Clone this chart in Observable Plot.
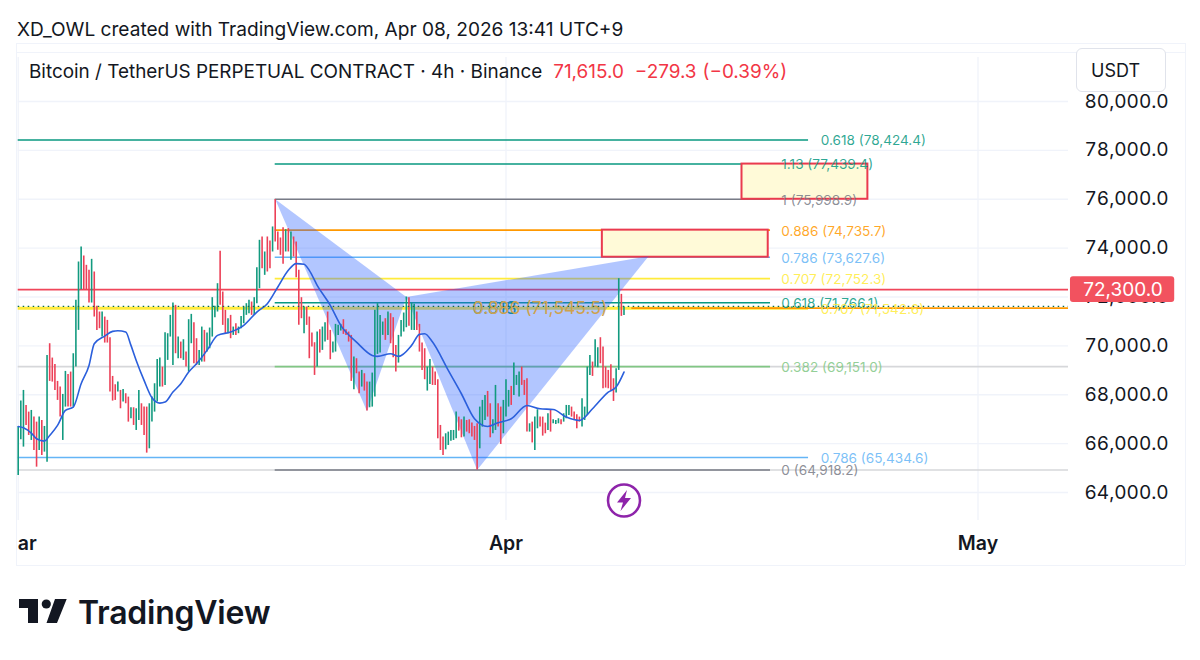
<!DOCTYPE html>
<html><head><meta charset="utf-8">
<script src="https://cdn.jsdelivr.net/npm/d3@7"></script>
<script src="https://cdn.jsdelivr.net/npm/@observablehq/plot@0.6"></script>
<style>
html,body{margin:0;padding:0;background:#fff}
#wrap{position:relative;width:1200px;height:660px;overflow:hidden;font-family:Inter,"Noto Sans",sans-serif;color:#131722}
#wrap>*{position:absolute}
#chart svg{display:block}
.line{background:#f0f3fa}
</style></head><body>
<div id="wrap">
<div id="chart" style="left:0;top:0"></div>
<div class="line" style="left:16px;top:43px;width:1169px;height:1px"></div>
<div class="line" style="left:16px;top:52px;width:1169px;height:1px"></div>
<div class="line" style="left:16px;top:565px;width:1169px;height:1px"></div>
<div class="line" style="left:16px;top:43px;width:1px;height:522px"></div>
<div class="line" style="left:1185px;top:43px;width:1px;height:522px"></div>
<div id="title" style="left:17px;top:17px;font-size:19.1px;line-height:24px;white-space:nowrap"></div>
<div id="legend" style="left:29px;top:61px;font-size:18.9px;line-height:22px;white-space:nowrap"></div>
<div id="unit" style="left:1076px;top:48px;width:88px;height:42px;border:1px solid #e0e3eb;border-radius:6px;background:#fff;font-size:18px;line-height:44px;text-indent:14px"></div>
<svg style="left:605px;top:482px" width="38" height="38" viewBox="0 0 38 38"><circle cx="19" cy="18.5" r="16" fill="#fff" stroke="#8e24aa" stroke-width="2.6"/><path d="M22 8 L12 20.5 H18 L15.5 29 L26 16 H20 Z" fill="#8e24aa"/></svg>
<svg style="left:0;top:590px" width="80" height="40"><path d="M19 9H38V33H28V18H19Z M55 9H66.7L57 33H46.5Z" fill="#131722"/><circle cx="46.3" cy="14" r="4.6" fill="#131722"/></svg>
<div id="brand" style="left:78px;top:593px;font-size:32px;font-weight:600;line-height:40px;white-space:nowrap;letter-spacing:-.25px"></div>
</div>
<script>
const titleText = "XD_OWL created with TradingView.com, Apr 08, 2026 13:41 UTC+9";
const legendName = "Bitcoin / TetherUS PERPETUAL CONTRACT · 4h · Binance";
const legendValues = ["71,615.0", "−279.3", "(−0.39%)"];
const unitText = "USDT";
const brandText = "TradingView";

// One 4-hour bar each, from 1 March 2026. G = up, R = down; ten bars per chunk.
const barDirs = ["GGGRRGRRGR","GGRRRRRGGR","RGGGGRRRGR","RRGRRRRRGR","GRRGRGGRRR","GGGGGRGGGG","RGRGRGGRRG","GRGGGGGRRR","GRGRGGGGGR","GGGRGRRGRR","RRGRGRRRRG","RRRRGRGGRR","GGGGRRRRGR","RGRRGGGGGG","RGRRRGGGGR","GGRRRRGGRR","RRRGGGGGRR","GRRRRRGGGR","RGGRRGGGRG","GGRRRGRGGR","RRGRGGGRGG","GRRRRGGGGR","GGRRRRRRGG","RG"].join("");
const barHighs = [66676,67740,68177,67563,67290,67358,67085,66880,67085,66948,66703,69610,70088,69501,69242,68546,68314,68013,68955,68832,68928,69678,71863,73432,74047,73678,73296,73091,73541,73023,71617,71385,71385,71180,71043,70334,68750,68409,68518,68177,68218,68041,67904,67467,67467,67426,68177,67631,67495,67495,67631,67904,68450,69446,69501,69132,70538,70497,71248,71753,71658,70361,70156,70252,69747,71071,71289,70948,70293,69815,70770,70634,70525,70730,71972,71617,72545,73869,72204,71453,71112,71248,70770,70907,70770,71207,71589,71726,71862,71794,71972,73200,74320,74456,73842,74456,74292,74866,75985,74661,74415,74838,74756,74797,74661,74456,74251,73091,71972,71589,71589,71180,70525,70129,70566,70661,70770,70948,71385,70634,70156,70880,70839,70880,71071,70661,70566,70429,69542,69474,68928,68996,68860,68518,68518,68887,71453,71726,71248,70975,71112,71385,71317,71153,70020,70429,71043,71344,72000,71972,71753,71699,71385,70880,70115,69883,69132,69446,69132,68928,68614,66744,66266,66403,66471,66539,66539,67290,67085,66976,67085,66948,66976,66839,66703,66812,67495,67768,67972,68136,67631,66976,68382,67631,67495,67768,68614,68177,68341,69296,68791,68928,69132,68587,68655,66812,66880,67085,67385,67085,67085,66839,67221,67358,66976,66948,67017,66976,67221,67563,67563,67495,67290,67181,67085,67836,67495,69132,69610,69337,70252,69924,70334,69951,69132,68996,69228,68655,69064,72750,72108,71589];
const barLows = [64696,66157,65857,66744,66334,66130,65720,65037,65720,65515,65652,65242,68546,68518,68177,67768,67085,66130,67495,67495,67495,67495,69132,70634,72299,72299,72299,71753,71753,71180,70634,70702,70361,70115,70115,68109,67740,67768,68109,67426,67699,67631,66880,67017,66744,66539,66948,66744,66334,65611,65788,66880,67290,67699,68314,68314,68382,69406,70361,69201,69678,69474,69474,69406,69132,68928,70088,69269,69201,69201,69337,69337,69747,69883,70361,71153,71385,71658,70839,70498,70498,70293,70429,70429,70498,70702,70907,71248,71316,71248,71248,71726,72340,73159,72886,73023,73159,73842,74251,73910,73705,73337,73842,73842,73500,73637,72791,70839,71112,70498,70839,69474,69952,68791,69132,69706,69815,70156,70225,69433,69706,69747,70429,70607,70470,70429,70156,68546,68204,68860,68041,68314,68150,67330,67467,67495,67904,69651,69706,70429,70225,70429,70088,69515,68928,69296,70361,70566,70743,70798,70634,70634,70634,69747,68996,68614,68150,68423,68382,68382,66198,65720,65515,65747,65925,66102,66130,66198,66512,66238,66266,66471,66403,66266,66130,64918,65788,66676,66948,67085,66238,66403,66539,66676,65966,66403,67085,67495,67563,67972,68382,67904,68382,67972,66471,66471,66028,65720,66607,66676,66307,66403,66539,66471,66812,66785,66812,66771,66880,67017,67153,67085,66948,66607,66880,66676,66948,67153,68791,68750,69132,69105,69269,68245,68272,68245,68150,67726,68068,68996,71207,71248];

// Moving average, read at these bars.
const maBars = [0,2,5,7,10,12,15,18,21,24,27,29,33,36,38,41,43,45,48,51,54,56,59,62,65,68,72,76,81,86,91,95,99,103,106,109,111,114,119,123,129,135,137,142,145,150,153,155,158,164,169,174,179,183,188,194,199,204,209,214,219,225,228,231];
const maPrices = [66703,66648,66430,66198,66102,66334,66744,67358,67495,68450,69201,70088,70402,70593,70620,70566,70020,69405,68587,67877,67658,67699,68109,68450,68928,69269,69815,70429,70566,70839,71385,71726,72409,73091,73364,73337,73091,72477,71658,70839,70156,69610,69569,69678,69569,70020,70470,70498,70156,68996,68041,67017,66703,66853,67017,67563,67426,67399,67085,66948,67426,68109,68314,68928];

// Fibonacci levels. Group A starts at the swing high, group B at the left edge.
const groupAPrices = [77439.4,75998.9,74735.7,73627.6,72752.3,71766.1,69151.0,64918.2];
const groupALabels = ["1.13 (77,439.4)","1 (75,998.9)","0.886 (74,735.7)","0.786 (73,627.6)","0.707 (72,752.3)","0.618 (71,766.1)","0.382 (69,151.0)","0 (64,918.2)"];
const groupAColors = ["#089981","#787b86","#ff9800","#64b5f6","#ffeb3b","#089981","#81c784","#787b86"];
const groupBPrices = [78424.4,65434.6,71542.6];
const groupBLabels = ["0.618 (78,424.4)","0.786 (65,434.6)","0.707 (71,542.6)"];
const groupBColors = ["#089981","#64b5f6","#ffeb3b"];
const groupAStart = "2026-03-17T08:00Z", groupAEnd = "2026-04-17T19:30Z", groupALabelAt = "2026-04-18T12:00Z";
const groupBStart = "2026-03-01T00:00Z", groupBEnd = "2026-04-20T05:30Z", groupBLabelAt = "2026-04-21T00:00Z";
const paneEnd = "2026-05-06T18:00Z";
const greyPrices = [69151.0,64918.2];
const midPrice = 71545.5, midLabels = ["0.618","0.5"], midColors = ["#089981","#81c784"];
const midMainLabel = "0.886 (71,545.5)";
const midAt = "2026-03-29T21:00Z", orangeStart = "2026-04-09T00:00Z";

const alertPrice = 72300, lastPrice = 71615;
const boxStarts = ["2026-04-16T00:00Z","2026-04-07T03:00Z"], boxEnds = ["2026-04-24T00:00Z","2026-04-17T16:00Z"];
const boxTops = [77439.4,74735.7], boxBottoms = [75998.9,73627.6];

const patternTimes = ["2026-03-17T08:00Z","2026-03-23T04:00Z","2026-03-25T16:00Z","2026-03-30T04:00Z","2026-04-10T01:30Z"];
const patternPrices = [75998.9,67329,72000,64918.2,73664];

const priceTicks = [64000,66000,68000,70000,72000,74000,76000,78000,80000];
const monthTicks = ["2026-03-01T00:00Z","2026-04-01T00:00Z","2026-05-01T00:00Z"];
const monthLabels = ["Mar","Apr","May"];

const barTime = i => new Date(Date.UTC(2026,2,1) + i*4*3600*1000);
const D = s => new Date(s);
const bars = barHighs.map((h,i)=>({t:barTime(i),high:h,low:barLows[i],dir:barDirs[i]==="G"?"up":"down"}));
const ma = maBars.map((b,i)=>({t:barTime(b),p:maPrices[i]}));
const groupA = groupAPrices.map((p,i)=>({p,label:groupALabels[i],c:groupAColors[i]}));
const groupB = groupBPrices.map((p,i)=>({p,label:groupBLabels[i],c:groupBColors[i]}));
const boxes = boxTops.map((t,i)=>({x1:D(boxStarts[i]),x2:D(boxEnds[i]),y1:boxBottoms[i],y2:t}));
const tri1 = [0,1,2].map(i=>({t:D(patternTimes[i]),p:patternPrices[i]}));
const tri2 = [2,3,4].map(i=>({t:D(patternTimes[i]),p:patternPrices[i]}));
const mids = midLabels.map((label,i)=>({label,c:midColors[i]}));
const fmtP = d3.format(",.1f");

const labelFont = {fontSize:13.6, fontFamily:"Inter", textAnchor:"start", letterSpacing:"0.65px", dy:1};
const chart = Plot.plot({
  width:1200,height:660,marginLeft:17,marginRight:132,marginTop:44,marginBottom:95,
  style:{background:"transparent",fontFamily:"Inter",color:"#131722",overflow:"visible"},
  x:{type:"utc",domain:[D(groupBStart),D(paneEnd)],range:[17.7,1068],axis:null},
  y:{domain:[64000,80000],range:[492,101],label:null},
  color:{domain:["up","down"],range:["#129a7f","#ec4057"]},
  marks:[
    Plot.ruleY(priceTicks,{x1:D(groupBStart),x2:D(paneEnd),stroke:"#f0f3fa",strokeWidth:1.3}),
    Plot.ruleX(monthTicks.map(D),{y1:62853,y2:81800,stroke:"#f0f3fa",strokeWidth:1.3}),
    Plot.ruleY(greyPrices,{x1:D(groupBStart),x2:D(paneEnd),stroke:"#d6d7da",strokeWidth:1.6}),
    Plot.ruleY(groupB,{y:"p",x1:D(groupBStart),x2:D(groupBEnd),stroke:"c",strokeWidth:d=>d.c==="#ffeb3b"?3:1.5}),
    Plot.ruleY(groupA,{y:"p",x1:D(groupAStart),x2:D(groupAEnd),stroke:"c",strokeWidth:1.6}),
    Plot.ruleY([midPrice],{x1:D(orangeStart),x2:D(paneEnd),stroke:"#ff9800",strokeWidth:1.8}),
    Plot.ruleY([alertPrice],{x1:D(groupBStart),x2:D(paneEnd),stroke:"#f0465a",strokeWidth:1.6}),
    Plot.text(mids,{x:D(midAt),y:midPrice,text:"label",fill:"c",fontSize:17.5,fontFamily:"Inter",textAnchor:"start"}),
    Plot.rect(boxes,{x1:"x1",x2:"x2",y1:"y1",y2:"y2",fill:"#fffad8",stroke:"#ea3a4e",strokeWidth:2}),
    Plot.text(groupA,{x:D(groupALabelAt),y:"p",text:"label",fill:"c",fillOpacity:.85,...labelFont}),
    Plot.text(groupB,{x:D(groupBLabelAt),y:"p",text:"label",fill:"c",fillOpacity:.85,...labelFont}),
    Plot.line(tri1,{x:"t",y:"p",fill:"#2962ff",fillOpacity:.36,stroke:"none"}),
    Plot.line(tri2,{x:"t",y:"p",fill:"#2962ff",fillOpacity:.36,stroke:"none"}),
    Plot.text([midMainLabel],{x:D(midAt),y:midPrice,text:d=>d,fill:"#cfa24e",fontSize:17.5,fontFamily:"Inter",textAnchor:"start"}),
    Plot.ruleX(bars,{x:"t",y1:"low",y2:"high",stroke:"dir",strokeWidth:1.6}),
    Plot.line(ma,{x:"t",y:"p",stroke:"#2b5fdc",strokeWidth:1.6,curve:"monotone-x"}),
    Plot.ruleY([lastPrice],{x1:D(groupBStart),x2:D(paneEnd),stroke:"#0a6b54",strokeWidth:1.4,strokeDasharray:"1.5 3.5"}),
    Plot.axisY(priceTicks,{anchor:"right",tickSize:0,tickPadding:16,fontSize:19,tickFormat:fmtP,label:null,fontFamily:"Inter",fill:"#131722"}),
    Plot.rect([alertPrice],{x1:D("2026-05-06T21:00Z"),x2:D("2026-05-13T12:00Z"),y1:d=>d-530,y2:d=>d+530,fill:"#f2525f",rx:3}),
    Plot.text([alertPrice],{x:D("2026-05-10T05:00Z"),y:d=>d,text:fmtP,fill:"#fff",fontSize:19,fontFamily:"Inter"}),
    Plot.text(monthTicks.map(D),{x:d=>d,text:(d,i)=>monthLabels[i],frameAnchor:"bottom",dy:-16,clip:"frame",fontSize:19.5,fontWeight:600,fill:"#131722",fontFamily:"Inter"})
  ]
});
document.getElementById("chart").appendChild(chart);
document.getElementById("title").textContent = titleText;
const red = s => `<span style="color:#f23645;margin-left:11px">${s}</span>`;
document.getElementById("legend").innerHTML = legendName + red(legendValues[0]) + red(legendValues[1]) + `<span style="color:#f23645;margin-left:6px">${legendValues[2]}</span>`;
document.getElementById("unit").textContent = unitText;
document.getElementById("brand").textContent = brandText;
</script>
</body></html>
